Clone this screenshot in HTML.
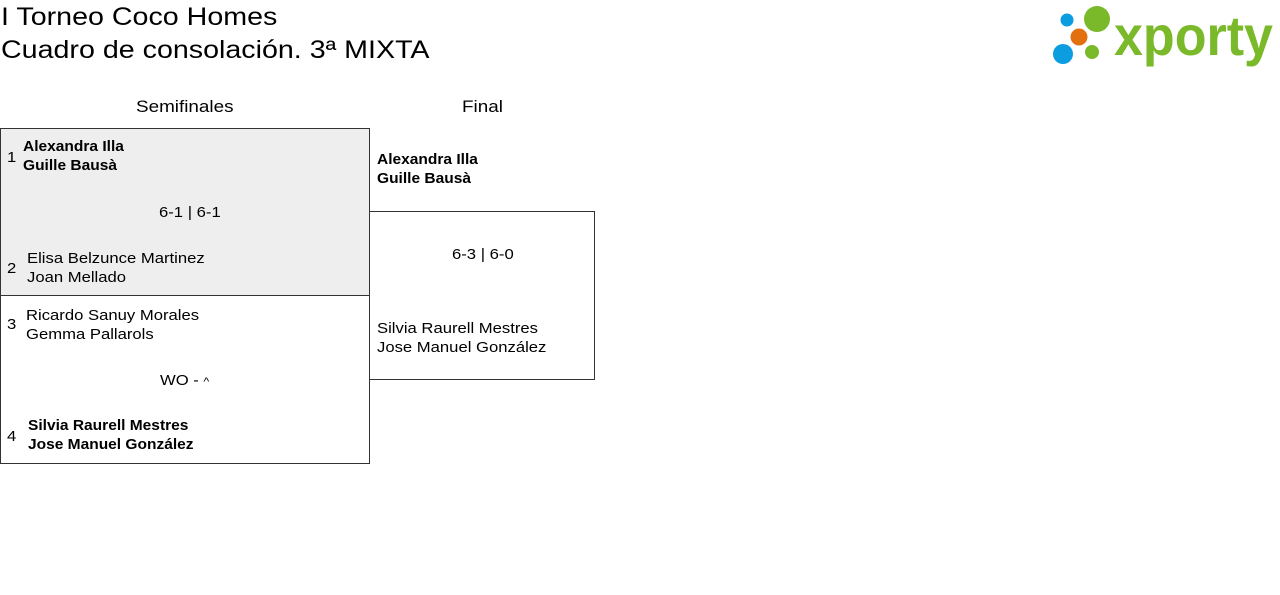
<!DOCTYPE html>
<html><head><meta charset="utf-8"><style>
body{margin:0;width:1280px;height:595px;background:#fff;font-family:"Liberation Sans",sans-serif;color:#000;position:relative;overflow:hidden}
.a{position:absolute;white-space:nowrap;transform-origin:0 0}
.t{font-size:25px;transform:scaleX(1.145)}
.h{font-size:17px;transform:scaleX(1.11)}
.n{font-size:15px;line-height:19px;transform:scaleX(1.11)}
.b{font-weight:bold;font-size:14.5px;transform:scaleX(1.07)}
.box{position:absolute;border:1px solid #333;box-sizing:border-box}
</style></head><body>
<div class="a t" style="left:1px;top:3px">I Torneo Coco Homes</div>
<div class="a t" style="left:1px;top:36px">Cuadro de consolación. 3ª MIXTA</div>

<svg class="a" style="left:1040px;top:0" width="240" height="70">
<circle cx="27" cy="20" r="6.5" fill="#0b9de0"/>
<circle cx="57" cy="19" r="13" fill="#7ab929"/>
<circle cx="39" cy="37" r="8.5" fill="#e2700f"/>
<circle cx="23" cy="54" r="10" fill="#0b9de0"/>
<circle cx="52" cy="52" r="7" fill="#7ab929"/>
<text x="74" y="55" font-family="Liberation Sans,sans-serif" font-weight="bold" font-size="56" fill="#7ab929" textLength="159" lengthAdjust="spacingAndGlyphs">xporty</text>
</svg>

<div class="a h" style="left:136px;top:97px">Semifinales</div>
<div class="a h" style="left:462px;top:97px">Final</div>

<div class="box" style="left:0;top:128px;width:370px;height:168px;background:#eeeeee"></div>
<div class="box" style="left:0;top:295px;width:370px;height:169px"></div>
<div class="box" style="left:369px;top:211px;width:226px;height:169px"></div>

<div class="a n" style="left:7px;top:148px">1</div>
<div class="a n b" style="left:23px;top:138px">Alexandra Illa<br>Guille Bausà</div>
<div class="a n" style="left:159px;top:203px">6-1 | 6-1</div>
<div class="a n" style="left:7px;top:259px">2</div>
<div class="a n" style="left:27px;top:249px">Elisa Belzunce Martinez<br>Joan Mellado</div>

<div class="a n" style="left:7px;top:315px">3</div>
<div class="a n" style="left:26px;top:306px">Ricardo Sanuy Morales<br>Gemma Pallarols</div>
<div class="a n" style="left:160px;top:371px">WO - <span style="font-size:11px">^</span></div>
<div class="a n" style="left:7px;top:427px">4</div>
<div class="a n b" style="left:28px;top:417px">Silvia Raurell Mestres<br>Jose Manuel González</div>

<div class="a n b" style="left:377px;top:151px">Alexandra Illa<br>Guille Bausà</div>
<div class="a n" style="left:452px;top:245px">6-3 | 6-0</div>
<div class="a n" style="left:377px;top:319px">Silvia Raurell Mestres<br>Jose Manuel González</div>
</body></html>
